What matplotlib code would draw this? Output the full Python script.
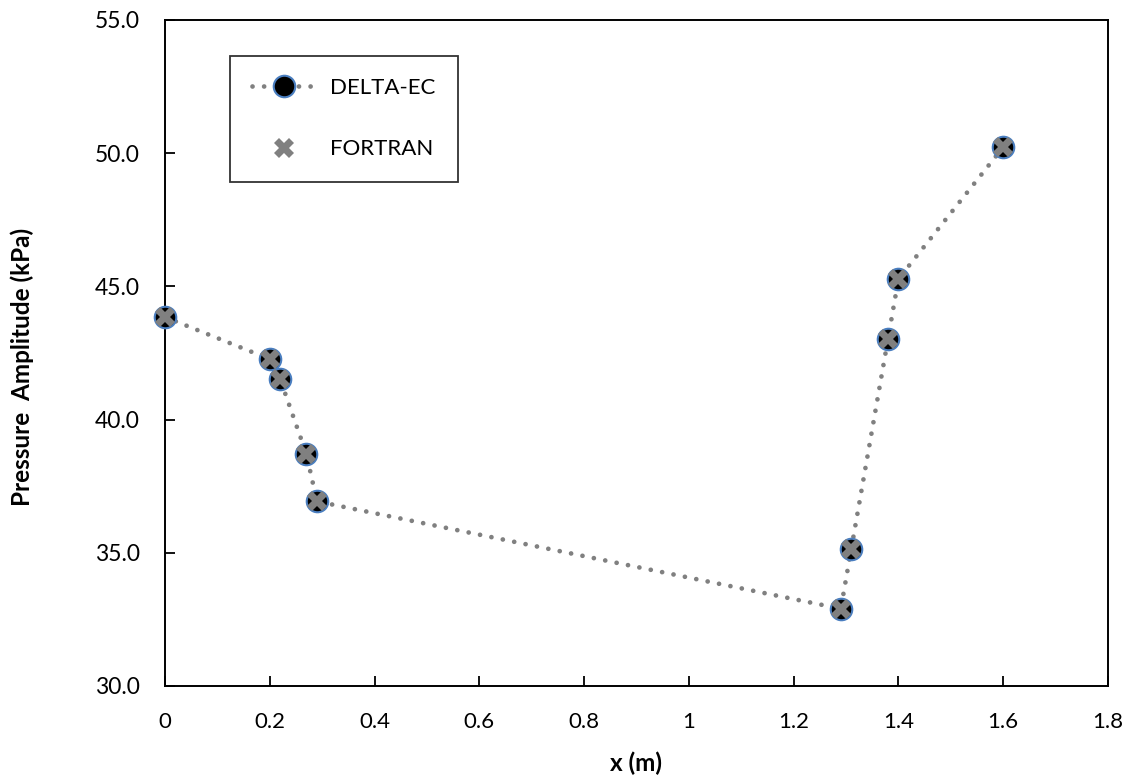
import matplotlib
matplotlib.use("Agg")
import matplotlib.pyplot as plt
from matplotlib.lines import Line2D

# Data
x_delta = [0.0, 0.20, 0.22, 0.27, 0.29, 1.29, 1.31, 1.38, 1.40, 1.60]
p_delta = [43.85, 42.27, 41.51, 38.70, 36.93, 32.90, 35.15, 43.02, 45.28, 50.23]
x_fortran = [0.0, 0.20, 0.22, 0.27, 0.29, 1.29, 1.31, 1.38, 1.40, 1.60]
p_fortran = [43.85, 42.27, 41.51, 38.70, 36.93, 32.90, 35.15, 43.02, 45.28, 50.23]
x_ticks = [0, 0.2, 0.4, 0.6, 0.8, 1.0, 1.2, 1.4, 1.6, 1.8]
x_ticklabels = ["0", "0.2", "0.4", "0.6", "0.8", "1", "1.2", "1.4", "1.6", "1.8"]
y_ticks = [30, 35, 40, 45, 50, 55]
y_ticklabels = ["30.0", "35.0", "40.0", "45.0", "50.0", "55.0"]

fig = plt.figure(figsize=(11.34, 7.8), dpi=100)
ax = fig.add_axes([165/1134, 1-686/780, (1108-165)/1134, (686-20)/780])

line_kw = dict(color="#808080", linewidth=3.4, linestyle=(0, (0.01, 2.45)),
               dash_capstyle="round")
ax.plot(x_delta, p_delta, zorder=2, **line_kw)
ax.plot(x_delta, p_delta, linestyle="none", marker="o", markersize=15.5,
        markerfacecolor="black", markeredgecolor="#4A7EC0", markeredgewidth=1.5,
        zorder=3, clip_on=False)
ax.plot(x_fortran, p_fortran, linestyle="none", marker="X", markersize=14,
        markerfacecolor="#808080", markeredgewidth=0, zorder=4, clip_on=False)

ax.set_xlim(0, 1.8)
ax.set_ylim(30, 55)
ax.set_xticks(x_ticks)
ax.set_xticklabels(x_ticklabels, family="Lato", fontsize=16)
ax.set_yticks(y_ticks)
ax.set_yticklabels(y_ticklabels, family="Lato", fontsize=16.5)
ax.tick_params(axis="both", direction="in", length=7, width=1.3, color="black")
ax.tick_params(axis="x", pad=19)
ax.tick_params(axis="y", pad=18)
for s in ax.spines.values():
    s.set_linewidth(1.4)

ax.set_xlabel("x (m)", family="Lato", fontweight="bold", fontsize=17.5, va="center")
ax.xaxis.set_label_coords(0.5, (686-763)/666)
ax.set_ylabel("Pressure  Amplitude (kPa)", family="Lato", fontweight="bold",
              fontsize=17.5, va="center")
ax.yaxis.set_label_coords((22-165)/943, (686-367)/666)

h1 = Line2D([], [], marker="o", markersize=15.5, markerfacecolor="black",
            markeredgecolor="#4A7EC0", markeredgewidth=1.5, **line_kw)
h2 = Line2D([], [], linestyle="none", marker="X", markersize=14,
            markerfacecolor="#808080", markeredgewidth=0)
leg = ax.legend([h1, h2], ["DELTA-EC", "FORTRAN"],
                loc="upper left", bbox_to_anchor=((230-165)/943, 1-(56-20)/666),
                frameon=True, fancybox=False, edgecolor="black",
                prop={"family": "Lato", "size": 16}, borderpad=1.0,
                labelspacing=1.85, handlelength=2.9, handletextpad=0.6,
                borderaxespad=0, markerscale=1.0, numpoints=1)
leg.get_frame().set_linewidth(1.3)

fig.savefig("out.png", dpi=100)
